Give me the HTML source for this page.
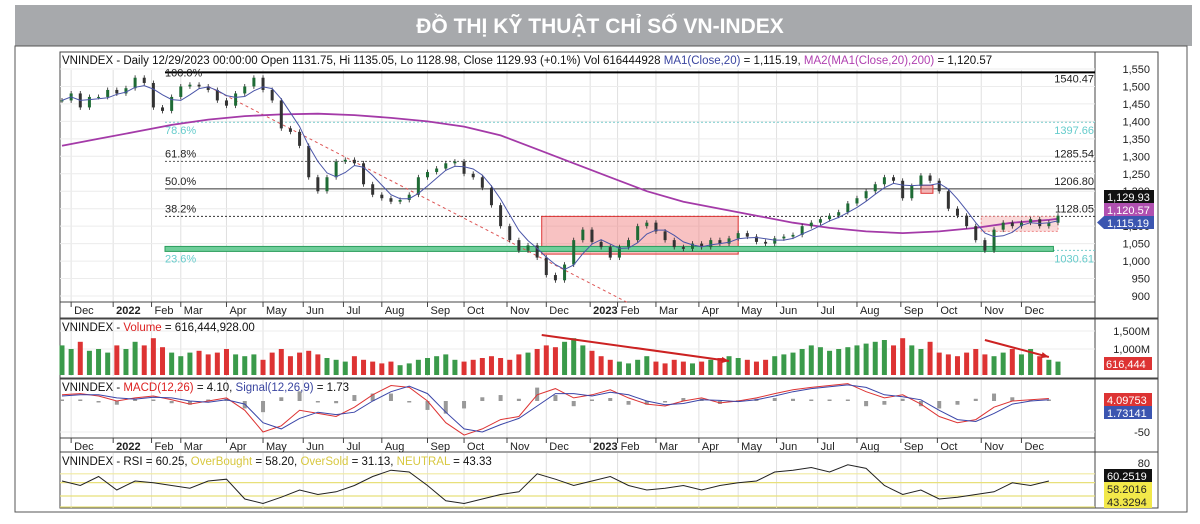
<!DOCTYPE html>
<html><head><meta charset="utf-8"><style>
body{margin:0;background:#fff;width:1200px;height:524px;overflow:hidden}
svg{display:block;font-family:"Liberation Sans",Arial,sans-serif}
</style></head><body>
<svg id="c" width="1200" height="524" viewBox="0 0 1200 524">
<rect x="15" y="5" width="1177" height="41" fill="#a7a9ac"/>
<text x="600" y="33" text-anchor="middle" font-size="21" font-weight="bold" fill="#fff" font-family="'Liberation Sans Narrow','Liberation Sans',sans-serif">ĐỒ THỊ KỸ THUẬT CHỈ SỐ VN-INDEX</text>
<rect x="15" y="46" width="1172" height="466" fill="none" stroke="#555" stroke-width="1"/>
<g id="g"></g>
</svg>
<script>
const closes=[1460,1480,1440,1470,1470,1490,1480,1495,1525,1510,1440,1430,1470,1500,1505,1500,1490,1460,1445,1480,1500,1525,1490,1460,1380,1370,1330,1240,1200,1240,1285,1290,1280,1220,1190,1180,1170,1175,1190,1240,1255,1265,1280,1285,1250,1240,1210,1160,1100,1060,1030,1045,1010,960,945,990,1060,1090,1055,1040,1010,
1040,1060,1100,1110,1085,1060,1040,1035,1050,1040,1060,1050,1065,1080,1070,1055,1050,1065,1070,1075,1100,1110,1120,1130,1140,1165,1180,1200,1220,1240,1230,1180,1215,1245,1230,1200,1150,1130,1100,1060,1030,1090,1110,1100,1110,1120,1100,1110,1130];
const volumes=[1100,1000,1200,950,1000,900,1100,1000,1200,1100,1300,1050,900,800,900,950,850,900,1000,850,800,850,700,900,1000,800,900,950,850,750,700,650,800,700,650,600,650,550,600,700,750,800,850,700,650,700,750,800,750,700,850,900,1000,1100,1050,1200,1300,1100,950,800,700,
650,600,700,800,650,600,700,650,600,650,700,750,800,750,700,650,700,800,850,900,1000,1100,1050,950,1000,1050,1100,1150,1200,1250,1100,1300,1100,1000,1200,900,850,800,900,1000,850,800,900,1000,850,1000,800,700,650];
const ma200=[1330,1350,1370,1390,1405,1415,1420,1422,1418,1410,1400,1385,1360,1320,1280,1240,1200,1170,1150,1130,1110,1095,1085,1080,1085,1095,1110,1118,1121];
const macd=[10,12,8,0,5,8,2,-5,0,5,-15,-50,-40,-15,-20,-25,-10,10,25,22,0,-35,-55,-45,-30,-25,10,20,5,10,18,5,-5,-8,0,5,-3,0,5,12,18,22,25,28,15,5,10,-5,-25,-35,-30,-10,0,2,4];
const signal=[8,10,10,5,3,6,5,0,-2,2,-5,-35,-45,-28,-18,-22,-18,0,15,24,12,-18,-45,-50,-38,-28,-8,12,12,8,14,10,0,-6,-4,2,1,-1,2,8,15,20,23,26,22,10,7,2,-15,-30,-33,-20,-5,0,2];
const rsi=[60,55,65,50,60,58,55,52,60,62,40,35,42,50,45,48,55,65,72,70,55,38,35,40,45,48,68,62,55,60,65,55,50,52,55,50,55,58,60,70,72,75,70,78,74,55,45,50,40,42,45,48,58,55,60];
const monthLabels=["Dec","2022","Feb","Mar","Apr","May","Jun","Jul","Aug","Sep","Oct","Nov","Dec","2023","Feb","Mar","Apr","May","Jun","Jul","Aug","Sep","Oct","Nov","Dec"];
const monthWeeks=[1,5.6,9.8,13,18,22,26.4,30.8,35,40,44,48.7,53,57.8,60.8,65,69.7,74,78.2,82.7,87,91.8,95.8,100.6,105];
const priceTicks=[1550,1500,1450,1400,1350,1300,1250,1200,1150,1100,1050,1000,950,900];
const fibLevels=[1540.47,1397.66,1285.54,1206.80,1128.05,1030.61];
const fibPct=["100.0%","78.6%","61.8%","50.0%","38.2%","23.6%"];

const NS="http://www.w3.org/2000/svg",G=document.getElementById('g');
function el(t,a,txt){const e=document.createElementNS(NS,t);for(const k in a)e.setAttribute(k,a[k]);if(txt!==undefined)e.textContent=txt;G.appendChild(e);return e;}
const X0=62,X1=1058,L=60,R=1095;
const xw=i=>X0+i*(X1-X0)/(closes.length-1);
const py=p=>69+(1550-p)*227/650;
const vy=v=>385-v*0.036;
const my=m=>401-m*0.62;
const ry=r=>463+(80-r)*0.9;

[[52,318],[319,378],[379,452],[452,508]].forEach((p,k)=>{
 const r=el('rect',{x:L,y:p[0],width:1098,height:p[1]-p[0],fill:'#fff',stroke:'#444','stroke-width':1});
 
 const s=el('line',{x1:R,x2:R,y1:p[0],y2:p[1],stroke:'#444'});
 
});
monthWeeks.forEach((w,i)=>{[[70,302],[320,376],[380,438],[453,508]].forEach(r=>{
 const l=el('line',{x1:xw(w),x2:xw(w),y1:r[0],y2:r[1],stroke:'#e0e0e0'});
 });
 [[302,316],[438,452]].forEach(a=>{
 const t=el('text',{x:xw(w)+3,y:a[0]+12,'font-size':11,fill:'#222','font-weight':(monthLabels[i].length==4?'bold':'normal')},monthLabels[i]);
 
 const tk=el('line',{x1:xw(w),x2:xw(w),y1:a[0],y2:a[0]+5,stroke:'#444'});
 });
});
[[302],[438]].forEach(a=>{const l=el('line',{x1:L,x2:R,y1:a[0],y2:a[0],stroke:'#444'});});
priceTicks.forEach(p=>{
 const l=el('line',{x1:L,x2:R,y1:py(p),y2:py(p),stroke:'#ececec'});
 
 const t=el('text',{x:1150,y:py(p)+4,'font-size':11,'text-anchor':'end',fill:'#222'},p.toLocaleString('en-US'));
 
});
const fibStyle=[['#000',2,''],['#7cc',1,'2,2'],['#555',1,'2,2'],['#333',1,''],['#333',1,'2,2'],['#7cc',1,'2,2']];
fibLevels.forEach((f,i)=>{
 const l=el('line',{x1:165,x2:R,y1:py(f),y2:py(f),stroke:fibStyle[i][0],'stroke-width':fibStyle[i][1],'stroke-dasharray':fibStyle[i][2]});
 
 const c=(i==1||i==5)?'#6cc':'#222';
 const t=el('text',{x:165,y:py(f)+(i==0?4:(i==1||i==5?12:-4)),'font-size':11,fill:c},fibPct[i]);
 
 const t2=el('text',{x:1094,y:py(f)+(i==0?10:(i==1||i==5?12:-4)),'font-size':11,'text-anchor':'end',fill:c},f.toFixed(2));
 
});
let z=el('rect',{x:xw(52.5),y:py(1128),width:xw(74)-xw(52.5),height:py(1020)-py(1128),fill:'rgba(240,120,120,0.45)',stroke:'#d33'});

z=el('rect',{x:165,y:py(1042),width:xw(108.5)-165,height:5,fill:'#6fce9a',stroke:'#2a9d5c'});

z=el('rect',{x:xw(100.6),y:py(1128),width:xw(109)-xw(100.6),height:py(1085)-py(1128),fill:'rgba(240,150,150,0.35)',stroke:'#e88','stroke-dasharray':'2,2'});

z=el('rect',{x:xw(94),y:py(1217),width:12,height:8,fill:'rgba(240,120,120,0.5)',stroke:'#d33'});

z=el('line',{x1:xw(16),y1:py(1500),x2:xw(62),y2:py(880),stroke:'#d55','stroke-dasharray':'3,3'});

let d='';ma200.forEach((v,i)=>{d+=(i?'L':'M')+xw(Math.min(i*4,109)).toFixed(1)+','+py(v).toFixed(1);});
z=el('path',{d:d,fill:'none',stroke:'#a43aa8','stroke-width':1.8});

closes.forEach((c,i)=>{
 const o=i?closes[i-1]:c,up=c>=o,col=up?'#1e6b35':'#333';
 const w=el('line',{x1:xw(i),x2:xw(i),y1:py(Math.max(o,c)+7),y2:py(Math.min(o,c)-7),stroke:'#222','stroke-width':0.8});
 
 const b=el('rect',{x:xw(i)-1.5,y:py(Math.max(o,c)),width:3,height:Math.max(1,Math.abs(py(o)-py(c))),fill:col});
 
});
d='';closes.forEach((c,i)=>{const s=closes.slice(Math.max(0,i-3),i+1);const a=s.reduce((p,q)=>p+q,0)/s.length;d+=(i?'L':'M')+xw(i).toFixed(1)+','+py(a).toFixed(1);});
z=el('path',{d:d,fill:'none',stroke:'#4a55a8','stroke-width':1});

z=el('text',{x:62,y:64,'font-size':11.5,fill:'#111'});z.innerHTML='VNINDEX - Daily 12/29/2023 00:00:00 Open 1131.75, Hi 1135.05, Lo 1128.98, Close 1129.93 (+0.1%) Vol 616444928 <tspan fill="#3a45a0">MA1(Close,20)</tspan> = 1,115.19, <tspan fill="#b040b0">MA2(MA1(Close,20),200)</tspan> = 1,120.57';

[['#111','1,129.93',190],['#b050b0','1,120.57',203],['#3b55b0','1,115.19',216]].forEach(b=>{
 const r=el('rect',{x:1104,y:b[2],width:50,height:13,fill:b[0]});
 const t=el('text',{x:1107,y:b[2]+11,'font-size':11,fill:'#fff'},b[1]);
});
z=el('path',{d:'M1097,222.5 L1104,216 L1104,229 Z',fill:'#3b55b0'});

[331,349].forEach(y=>{const l=el('line',{x1:L,x2:R,y1:y,y2:y,stroke:'#ececec'});});
volumes.forEach((v,i)=>{
 const o=i?closes[i-1]:closes[i],up=closes[i]>=o;
 const b=el('rect',{x:xw(i)-2.5,y:vy(v),width:5,height:375-vy(v),fill:up?'#3a9a4a':'#d33'});
 
});
z=el('text',{x:62,y:331,'font-size':11.5,fill:'#111'});z.innerHTML='VNINDEX - <tspan fill="#d22">Volume</tspan> = 616,444,928.00';

[['1,500M',331],['1,000M',349]].forEach(a=>{const t=el('text',{x:1150,y:a[1]+4,'font-size':11,'text-anchor':'end',fill:'#222'},a[0]);});
z=el('rect',{x:1104,y:357,width:48,height:13,fill:'#d33'});
z=el('text',{x:1106,y:368,'font-size':11,fill:'#fff'},'616,444');
[[xw(52.5),335,xw(73),361],[xw(101),340,xw(108),357]].forEach(a=>{
 const l=el('line',{x1:a[0],y1:a[1],x2:a[2],y2:a[3],stroke:'#c22','stroke-width':2});
 const ang=Math.atan2(a[3]-a[1],a[2]-a[0]);const p=(r,t)=>[a[2]-r*Math.cos(ang+t),a[3]-r*Math.sin(ang+t)];
 const h=el('path',{d:'M'+a[2]+','+a[3]+'L'+p(8,0.4)+'L'+p(8,-0.4)+'Z',fill:'#c22'});
});

z=el('line',{x1:L,x2:R,y1:432,y2:432,stroke:'#ececec'});
macd.forEach((m,i)=>{const h=(m-signal[i])*1.2;const b=el('rect',{x:xw(i*2)-2,y:Math.min(my(0),my(h)),width:4,height:Math.abs(my(h)-my(0))||0.5,fill:'#999'});});
[[macd,'#d33','macd-line'],[signal,'#3a45a8','signal-line']].forEach(s=>{let p='';s[0].forEach((v,i)=>{p+=(i?'L':'M')+xw(Math.min(i*2,109)).toFixed(1)+','+my(v).toFixed(1);});const l=el('path',{d:p,fill:'none',stroke:s[1],'stroke-width':1});});
z=el('text',{x:62,y:391,'font-size':11.5,fill:'#111'});z.innerHTML='VNINDEX - <tspan fill="#d22">MACD(12,26)</tspan> = 4.10, <tspan fill="#3a45a0">Signal(12,26,9)</tspan> = 1.73';

z=el('text',{x:1150,y:436,'font-size':11,'text-anchor':'end',fill:'#222'},'-50');
[['#d33','4.09753',393],['#3b55b0','1.73141',406]].forEach(b=>{const r=el('rect',{x:1104,y:b[2],width:48,height:13,fill:b[0]});const t=el('text',{x:1107,y:b[2]+11,'font-size':11,fill:'#fff'},b[1]);});

[[58.2,'#e8e07a'],[43.33,'#e8e07a'],[31.13,'#e8e07a'],[68,'#f0eaa0']].forEach(a=>{const l=el('line',{x1:L,x2:R,y1:ry(a[0]),y2:ry(a[0]),stroke:a[1],'stroke-width':1.2});});
d='';rsi.forEach((v,i)=>{d+=(i?'L':'M')+xw(Math.min(i*2,109)).toFixed(1)+','+ry(v).toFixed(1);});
z=el('path',{d:d,fill:'none',stroke:'#222','stroke-width':1});
z=el('text',{x:62,y:465,'font-size':11.5,fill:'#111'});z.innerHTML='VNINDEX - RSI = 60.25, <tspan fill="#d8c840">OverBought</tspan> = 58.20, <tspan fill="#d8c840">OverSold</tspan> = 31.13, <tspan fill="#d8c840">NEUTRAL</tspan> = 43.33';

z=el('text',{x:1150,y:467,'font-size':11,'text-anchor':'end',fill:'#222'},'80');
[['#111','#fff','60.2519',469],['#f2e84a','#222','58.2016',482],['#f2e84a','#222','43.3294',495]].forEach(b=>{const r=el('rect',{x:1104,y:b[3],width:48,height:13,fill:b[0]});const t=el('text',{x:1107,y:b[3]+11,'font-size':11,fill:b[1]},b[2]);});
</script>
</body></html>
